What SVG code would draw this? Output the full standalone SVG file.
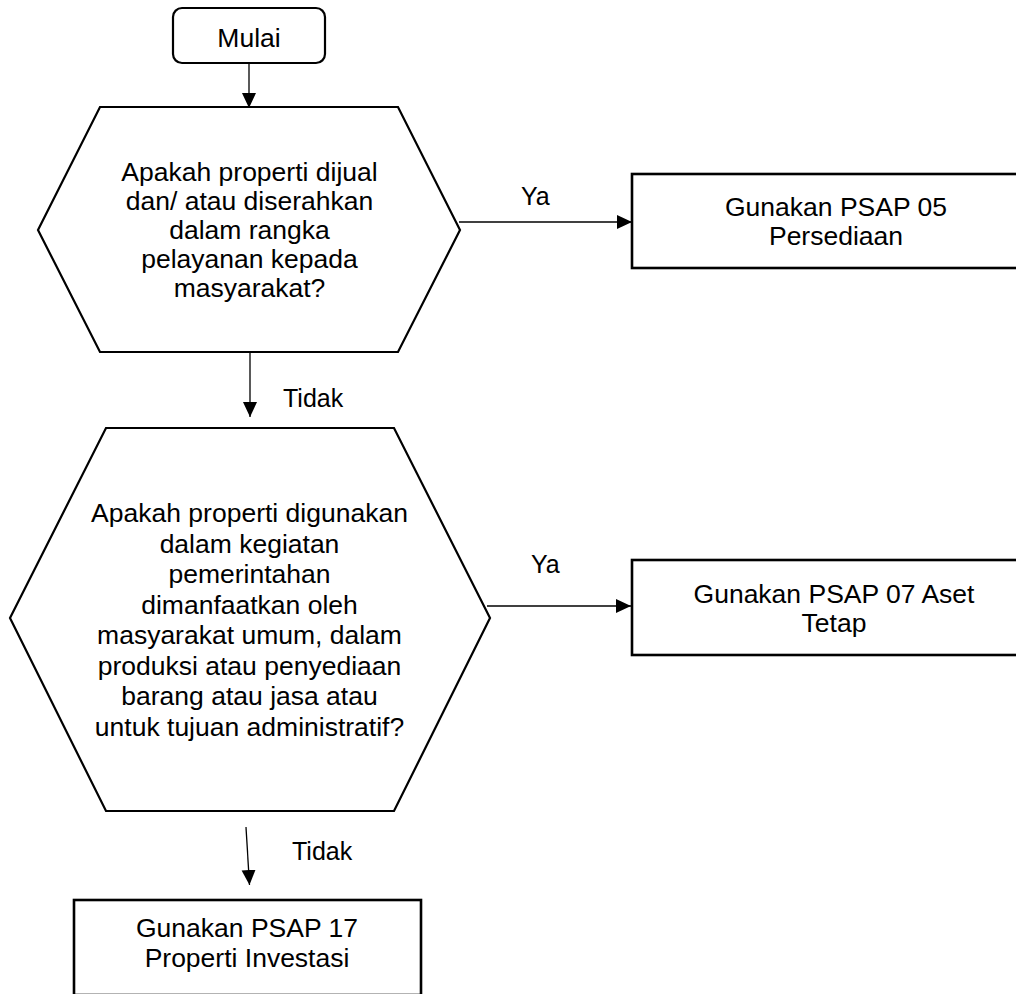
<svg xmlns="http://www.w3.org/2000/svg" width="1016" height="994" viewBox="0 0 1016 994">
<style>
.shape{fill:#fff;stroke:#000;stroke-width:2.2}
.box{fill:#fff;stroke:#000;stroke-width:2.6}
.t{font-family:"Liberation Sans",Arial,sans-serif;font-size:26.5px;fill:#000;text-anchor:middle}
.lbl{font-family:"Liberation Sans",Arial,sans-serif;font-size:25px;fill:#000}
.conn{fill:none;stroke:#000;stroke-width:1.3;marker-end:url(#ah)}
</style>
<defs>
<marker id="ah" markerUnits="userSpaceOnUse" markerWidth="16" markerHeight="16" refX="15" refY="7" orient="auto">
<path d="M0,0 L15,7 L0,14 z" fill="#000"/>
</marker>
</defs>
<rect width="1016" height="994" fill="#fff"/>
<g id="connectors">
<line class="conn" x1="249" y1="63" x2="249" y2="108"/>
<line class="conn" x1="459" y1="222" x2="632" y2="222"/>
<line class="conn" x1="250" y1="353" x2="250" y2="417"/>
<line class="conn" x1="487" y1="606" x2="631" y2="606"/>
<line class="conn" x1="246" y1="827" x2="249.5" y2="885"/>
<text class="lbl" x="521" y="205">Ya</text>
<text class="lbl" x="283" y="407">Tidak</text>
<text class="lbl" x="531" y="573">Ya</text>
<text class="lbl" x="292" y="860">Tidak</text>
</g>
<g id="mulai">
<rect class="shape" x="173" y="8" width="152" height="55" rx="9"/>
<text class="t" x="249" y="47">Mulai</text>
</g>
<g id="decision1">
<polygon class="shape" points="100,107 398,107 460,230 398,352 100,352 38,230"/>
<text class="t" x="249.5" y="181">Apakah properti dijual</text>
<text class="t" x="249.5" y="210">dan/ atau diserahkan</text>
<text class="t" x="249.5" y="239">dalam rangka</text>
<text class="t" x="249.5" y="268">pelayanan kepada</text>
<text class="t" x="249.5" y="297">masyarakat?</text>
</g>
<g id="psap05">
<rect class="box" x="632" y="174" width="410" height="94"/>
<text class="t" x="836" y="216">Gunakan PSAP 05</text>
<text class="t" x="836" y="245">Persediaan</text>
</g>
<g id="decision2">
<polygon class="shape" points="106,428 394,428 490,618 394,811 106,811 10,618"/>
<text class="t" x="249.5" y="522">Apakah properti digunakan</text>
<text class="t" x="249.5" y="552.5">dalam kegiatan</text>
<text class="t" x="249.5" y="583">pemerintahan</text>
<text class="t" x="249.5" y="613.5">dimanfaatkan oleh</text>
<text class="t" x="249.5" y="644">masyarakat umum, dalam</text>
<text class="t" x="249.5" y="674.5">produksi atau penyediaan</text>
<text class="t" x="249.5" y="705">barang atau jasa atau</text>
<text class="t" x="249.5" y="736">untuk tujuan administratif?</text>
</g>
<g id="psap07">
<rect class="box" x="632" y="560" width="410" height="95"/>
<text class="t" x="834" y="603">Gunakan PSAP 07 Aset</text>
<text class="t" x="834" y="632">Tetap</text>
</g>
<g id="psap17">
<rect class="box" x="74" y="900" width="347" height="95"/>
<text class="t" x="247" y="937">Gunakan PSAP 17</text>
<text class="t" x="247" y="967">Properti Investasi</text>
</g>
</svg>
